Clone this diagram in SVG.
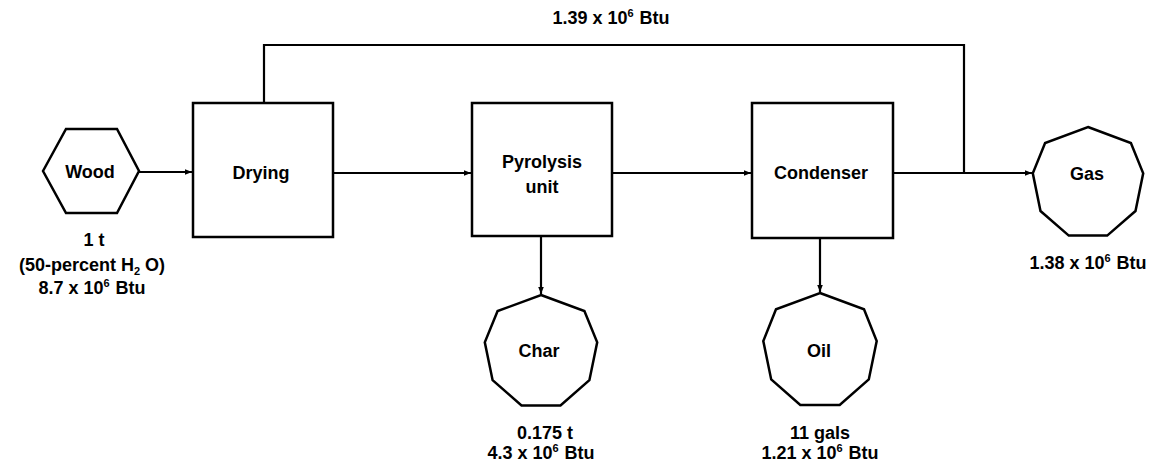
<svg xmlns="http://www.w3.org/2000/svg" width="1163" height="468" viewBox="0 0 1163 468">
<style>
.shape{fill:#fff;stroke:#000;stroke-width:2.5}
.line{fill:none;stroke:#000;stroke-width:2.2}
text{font-family:"Liberation Sans",Arial,sans-serif;font-size:18px;font-weight:bold;fill:#000;text-anchor:middle}
.sup{font-size:11px}
</style>
<defs>
<marker id="arr" viewBox="0 0 10 10" refX="10" refY="5" markerWidth="9" markerHeight="7" markerUnits="userSpaceOnUse" orient="auto">
<path d="M0,1 L10,5 L0,9 Z" fill="#000"/>
</marker>
</defs>
<rect width="1163" height="468" fill="#fff"/>
<g id="connectors">
<line class="line" x1="139" y1="172" x2="192" y2="172" marker-end="url(#arr)"/>
<line class="line" x1="333" y1="173" x2="471" y2="173" marker-end="url(#arr)"/>
<line class="line" x1="612" y1="173" x2="751" y2="173" marker-end="url(#arr)"/>
<line class="line" x1="893" y1="173" x2="1032" y2="173" marker-end="url(#arr)"/>
<polyline class="line" points="264,103 264,45 964,45 964,173"/>
<line class="line" x1="541" y1="236" x2="541" y2="294" marker-end="url(#arr)"/>
<line class="line" x1="820" y1="238" x2="820" y2="292" marker-end="url(#arr)"/>
<text x="611" y="24">1.39 x 10<tspan class="sup" dy="-7">6</tspan><tspan dy="7" dx="6">Btu</tspan></text>
</g>
<g id="wood">
<polygon class="shape" points="43,171 66,129 117,129 139,171 117,213 66,213"/>
<text x="90" y="178">Wood</text>
<text x="94" y="246">1 t</text>
<text x="92" y="271">(50-percent H<tspan class="sup" dy="4">2</tspan><tspan dy="-4"> O)</tspan></text>
<text x="92" y="294">8.7 x 10<tspan class="sup" dy="-7">6</tspan><tspan dy="7" dx="6">Btu</tspan></text>
</g>
<g id="drying">
<rect class="shape" x="193" y="103" width="140" height="134"/>
<text x="261" y="179">Drying</text>
</g>
<g id="pyrolysis">
<rect class="shape" x="472" y="103" width="140" height="133"/>
<text x="542" y="168">Pyrolysis</text>
<text x="542" y="193">unit</text>
</g>
<g id="condenser">
<rect class="shape" x="752" y="103" width="141" height="135"/>
<text x="821" y="179">Condenser</text>
</g>
<g id="char">
<polygon class="shape" points="541,295 584.4,311.1 597.2,342.3 589.4,380.2 560.5,405.4 521.5,405.4 492.6,380.2 484.8,342.3 497.6,311.1"/>
<text x="539" y="357">Char</text>
<text x="545" y="439">0.175 t</text>
<text x="541" y="459">4.3 x 10<tspan class="sup" dy="-7">6</tspan><tspan dy="7" dx="6">Btu</tspan></text>
</g>
<g id="oil">
<polygon class="shape" points="820,293 864,309.3 876.7,341 868.8,379.4 839.7,405 800.3,405 771.2,379.4 763.3,341 776,309.3"/>
<text x="819" y="357">Oil</text>
<text x="820" y="439">11 gals</text>
<text x="820" y="459">1.21 x 10<tspan class="sup" dy="-7">6</tspan><tspan dy="7" dx="6">Btu</tspan></text>
</g>
<g id="gas">
<polygon class="shape" points="1088,127 1130.9,143 1143.2,173.3 1135.5,211 1107.2,235.6 1068.8,235.6 1040.5,211 1032.8,173.3 1045.1,143"/>
<text x="1087" y="180">Gas</text>
<text x="1088" y="269">1.38 x 10<tspan class="sup" dy="-7">6</tspan><tspan dy="7" dx="6">Btu</tspan></text>
</g>
</svg>
